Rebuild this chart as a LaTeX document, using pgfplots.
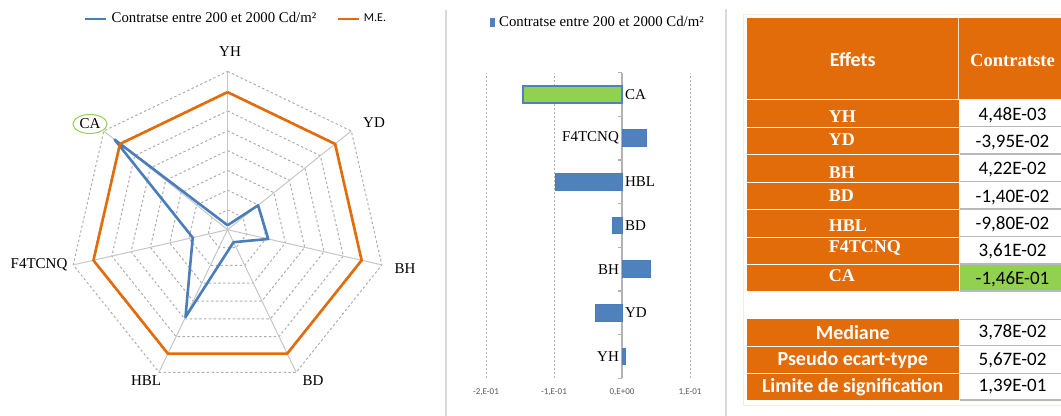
\documentclass[border=0pt]{standalone}
\usepackage{pgfplots}
\usepackage{pgfplotstable}
\pgfplotsset{compat=1.18}
\usepgfplotslibrary{polar}
\usetikzlibrary{shapes.geometric}
\usepackage{fontspec}
\setmainfont{Liberation Serif}
\newfontfamily\carlito{Carlito}

\definecolor{exblue}{HTML}{4A7EBB}
\definecolor{barblue}{HTML}{4F81BD}
\definecolor{exorange}{HTML}{E36C09}
\definecolor{tborange}{HTML}{E26B0A}
\definecolor{exgreen}{HTML}{92D050}

% radar: |contrast| on each effect axis (angle, radius)
\pgfplotstableread{
ang r
90 0.00448
38.571 0.0395
347.143 0.0422
295.714 0.0140
244.286 0.0980
192.857 0.0361
141.429 0.146
90 0.00448
}\radar

% bars: category index, contrast
\pgfplotstableread{
k v
0 0.00448
1 -0.0395
2 0.0422
3 -0.0140
4 -0.0980
5 0.0361
}\bars

\begin{document}
\begin{tikzpicture}[x=0.5pt,y=0.5pt]
\path[use as bounding box] (0,0) rectangle (1061,416);

% ---------- radar ----------
\begin{polaraxis}[
    at={(230,188.3)}, anchor=center,
    width=158.3pt, height=158.3pt, scale only axis,
    xmin=0, xmax=360, ymin=0, ymax=0.16,
    hide axis, clip=false,
    legend style={at={(0.53,1.165)}, anchor=center, draw=none, fill=none,
        legend columns=2, font=\fontsize{7.4}{9}\selectfont,
        /tikz/every even column/.append style={column sep=8pt}},
    legend image code/.code={\draw[#1] (0pt,0pt) -- (10.5pt,0pt);},
    spoke/.style={gray!45, line width=0.5pt, forget plot},
    ring/.style={gray!65, line width=0.5pt, dash pattern=on 1.2pt off 1.2pt, forget plot},
]
\pgfplotsinvokeforeach{0.02,0.04,0.06,0.08,0.10,0.12,0.14,0.16}{
  \addplot[ring] coordinates {(90,#1) (38.571,#1) (347.143,#1) (295.714,#1)
    (244.286,#1) (192.857,#1) (141.429,#1) (90,#1)};
}
\pgfplotsinvokeforeach{90,38.571,347.143,295.714,244.286,192.857,141.429}{
  \addplot[spoke] coordinates {(#1,0) (#1,0.16)};
}
\addplot[exblue, line width=1.3pt, line join=round] table[x=ang, y=r] {\radar};
\addlegendentry{Contratse entre 200 et 2000 Cd/m²}
\addplot[exorange, line width=1.3pt, line join=round] coordinates {
  (90,0.139) (38.571,0.139) (347.143,0.139) (295.714,0.139)
  (244.286,0.139) (192.857,0.139) (141.429,0.139) (90,0.139)};
\addlegendentry{\carlito\fontsize{6}{7}\selectfont M.E.}
\end{polaraxis}

\begin{scope}[font=\fontsize{7.5}{9}\selectfont]
\node at (230,364) {YH};
\node at (374,293) {YD};
\node at (405,147) {BH};
\node at (313,35) {BD};
\node at (146,35) {HBL};
\node at (39,151) {F4TCNQ};
\node[ellipse, draw=exgreen, line width=0.5pt, inner sep=0.5pt,
      minimum width=17pt, minimum height=9.5pt] at (90,292) {CA};
\end{scope}

% separators
\draw[gray!30, line width=1pt] (445.7,406) -- (445.7,0);
\draw[gray!30, line width=1pt] (725.7,406.7) -- (725.7,0);

% ---------- bars ----------
\begin{scope}[x=1cm, y=1cm]
\begin{axis}[
    at={(243pt,18.85pt)}, anchor=south west,
    width=102pt, height=152.8pt, scale only axis,
    xbar, bar width=8.35pt, bar shift=0pt,
    xmin=-0.2, xmax=0.1, ymin=-0.5, ymax=6.5,
    axis line style={draw=none},
    xtick={-0.2,-0.1,0,0.1},
    xticklabels={{-2,E-01},{-1,E-01},{0,E+00},{1,E-01}},
    xticklabel style={font=\carlito\fontsize{4.5}{5}\selectfont, text=black!65, yshift=-1.5pt},
    ytick=\empty,
    tick style={draw=none},
    xmajorgrids, major x grid style={gray!60, dash pattern=on 1pt off 1pt},
    clip=false,
    legend style={at={(-0.01,1.163)}, anchor=west, draw=none, fill=none,
        font=\fontsize{7.4}{9}\selectfont},
    legend image code/.code={\fill[barblue] (0pt,-2pt) rectangle (2pt,2pt);},
]
\draw[gray!60, line width=0.6pt] (axis cs:0,-0.5) -- (axis cs:0,6.5);
\pgfplotsinvokeforeach{-0.5,0.5,1.5,2.5,3.5,4.5,5.5,6.5}{
  \draw[gray!60, line width=0.6pt] (axis cs:0,#1) -- ++(-2pt,0pt);
}
\addplot[fill=barblue, draw=exblue] table[x=v, y=k] {\bars};
\addlegendentry{Contratse entre 200 et 2000 Cd/m²}
\addplot[fill=exgreen, draw=barblue, line width=0.8pt, forget plot] coordinates {(-0.146,6)};
\begin{scope}[font=\fontsize{7.5}{9}\selectfont]
\node[anchor=east, inner sep=0pt] at (axis cs:-0.004,0) {YH};
\node[anchor=west, inner sep=0pt] at (axis cs:0.004,1) {YD};
\node[anchor=east, inner sep=0pt] at (axis cs:-0.004,2) {BH};
\node[anchor=west, inner sep=0pt] at (axis cs:0.004,3) {BD};
\node[anchor=west, inner sep=0pt] at (axis cs:0.004,4) {HBL};
\node[anchor=east, inner sep=0pt] at (axis cs:-0.004,5) {F4TCNQ};
\node[anchor=west, inner sep=0pt] at (axis cs:0.004,6) {CA};
\end{scope}
\end{axis}
\end{scope}

% ---------- table ----------
\draw[tborange!15, line width=0.6pt] (743.3,401.7) rectangle (1070,10.3);
\fill[tborange] (747.3,317) rectangle (1070,397.7);
\draw[white!80!tborange, line width=0.5pt] (958.9,317) -- (958.9,397.7);
\node[text=white, font=\carlito\bfseries\fontsize{10}{12}\selectfont] at (852.7,356) {Effets};
\node[text=white, font=\bfseries\fontsize{9.3}{11}\selectfont] at (1012.5,356) {Contratste};

\foreach \t/\b/\ly/\lab/\vy/\val in {
    316/289.3/299.3/YH/301/{4,48E-03},
    288.3/262/276/YD/273.3/{-3,95E-02},
    260.7/234.3/243.3/BH/246/{4,22E-02},
    233.3/207/220/BD/218.7/{-1,40E-02},
    206/179.3/190/HBL/191.3/{-9,80E-02},
    178.3/152/167.7/F4TCNQ/164.3/{3,61E-02},
    151/125/140/CA/136.7/{-1,46E-01}} {
  \fill[tborange] (747.3,\b) rectangle (958.7,\t);
  \fill[white] (959.7,\b) rectangle (1070,\t);
  \draw[gray!55, line width=0.7pt] (959.7,\b) -- (1070,\b);
  \node[anchor=west, inner sep=0pt, text=white,
        font=\bfseries\fontsize{9}{11}\selectfont] at (828.5,\ly) {\lab};
  \node[font=\carlito\fontsize{9.5}{11}\selectfont] at (1012.5,\vy) {\val};
}
% CA value highlighted
\fill[exgreen] (959.7,125) rectangle (1070,151);
\draw[gray!55, line width=0.7pt] (959.7,125) -- (1070,125);
\node[font=\carlito\fontsize{9.5}{11}\selectfont] at (1012.5,136.7) {-1,46E-01};

\foreach \t/\b/\lab/\val in {
    96.7/70.3/Mediane/{3,78E-02},
    69.3/42.7/Pseudo ecart-type/{5,67E-02},
    42/16/Limite de signification/{1,39E-01}} {
  \fill[tborange] (747.3,\b) rectangle (958.7,\t);
  \fill[white] (959.7,\b) rectangle (1070,\t);
  \draw[gray!55, line width=0.7pt] (959.7,\b) -- (1070,\b);
  \node[text=white, font=\carlito\bfseries\fontsize{10}{12}\selectfont]
        at (852.7,{(\t+\b)/2}) {\lab};
  \node[font=\carlito\fontsize{9.5}{11}\selectfont] at (1012.5,{(\t+\b)/2}) {\val};
}
\draw[gray!55, line width=0.7pt] (959.7,96.7) -- (1070,96.7);
\end{tikzpicture}
\end{document}
